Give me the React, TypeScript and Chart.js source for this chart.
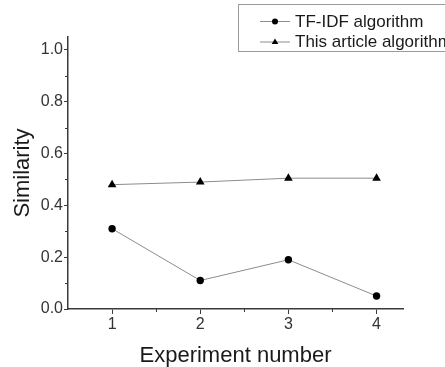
import React, { useEffect, useRef } from 'react';
import { Chart, registerables } from 'chart.js';

Chart.register(...registerables);

const EXPERIMENTS = [1, 2, 3, 4];
const TFIDF_VALUES = [0.31, 0.11, 0.19, 0.05];
const ARTICLE_VALUES = [0.48, 0.49, 0.505, 0.505];
const SERIES_NAMES = ['TF-IDF algorithm', 'This article algorithm'];
const X_TICKS = [1, 1.5, 2, 2.5, 3, 3.5, 4];
const Y_TICKS = [0, 0.1, 0.2, 0.3, 0.4, 0.5, 0.6, 0.7, 0.8, 0.9, 1.0];
const X_TITLE = 'Experiment number';
const Y_TITLE = 'Similarity';

const FONT = '"Liberation Sans", Arial, sans-serif';
const AXIS_COLOR = '#3a3a3a';
const LINE_COLOR = '#8c8c8c';

const isMajorX = (v: number) => Math.abs(v - Math.round(v)) < 1e-6;
const isMajorY = (v: number) => Math.abs(v * 5 - Math.round(v * 5)) < 1e-6;

const minorTicksPlugin = {
  id: 'minorTicks',
  afterDraw(chart: any) {
    const { ctx } = chart;
    const xs = chart.scales.x;
    const ys = chart.scales.y;
    ctx.save();
    ctx.strokeStyle = AXIS_COLOR;
    ctx.lineWidth = 1;
    X_TICKS.filter((v) => !isMajorX(v)).forEach((v) => {
      const px = Math.round(xs.getPixelForValue(v)) + 0.5;
      ctx.beginPath();
      ctx.moveTo(px, ys.bottom);
      ctx.lineTo(px, ys.bottom + 3);
      ctx.stroke();
    });
    Y_TICKS.filter((v) => !isMajorY(v)).forEach((v) => {
      const py = Math.round(ys.getPixelForValue(v)) + 0.5;
      ctx.beginPath();
      ctx.moveTo(xs.left, py);
      ctx.lineTo(xs.left - 3, py);
      ctx.stroke();
    });
    ctx.restore();
  },
};

function drawMarker(ctx: CanvasRenderingContext2D, style: string, x: number, y: number, r: number) {
  ctx.beginPath();
  if (style === 'triangle') {
    ctx.moveTo(x, y - r);
    ctx.lineTo(x + r * 0.95, y + r * 0.6);
    ctx.lineTo(x - r * 0.95, y + r * 0.6);
    ctx.closePath();
  } else {
    ctx.arc(x, y, r, 0, Math.PI * 2);
  }
  ctx.fill();
}

const boxLegendPlugin = {
  id: 'boxLegend',
  afterDraw(chart: any) {
    const { ctx } = chart;
    ctx.save();
    ctx.strokeStyle = '#9a9a9a';
    ctx.lineWidth = 1;
    ctx.strokeRect(238.5, 4.5, 230, 47);
    const rows = [21.5, 42];
    chart.data.datasets.forEach((ds: any, i: number) => {
      const y = rows[i];
      ctx.strokeStyle = LINE_COLOR;
      ctx.lineWidth = 1;
      ctx.beginPath();
      ctx.moveTo(260, y);
      ctx.lineTo(290, y);
      ctx.stroke();
      ctx.fillStyle = '#000';
      drawMarker(ctx, ds.pointStyle, 275, y, ds.pointStyle === 'triangle' ? 3.5 : 3);
      ctx.fillStyle = '#1a1a1a';
      ctx.font = `17px ${FONT}`;
      ctx.textBaseline = 'middle';
      ctx.textAlign = 'left';
      ctx.fillText(ds.label, 295, y + 0.5);
    });
    ctx.restore();
  },
};

export default function App() {
  const canvasRef = useRef<HTMLCanvasElement | null>(null);

  useEffect(() => {
    if (!canvasRef.current) return;
    const chart = new Chart(canvasRef.current, {
      type: 'line',
      data: {
        datasets: [
          {
            label: SERIES_NAMES[0],
            data: EXPERIMENTS.map((x, i) => ({ x, y: TFIDF_VALUES[i] })),
            borderColor: LINE_COLOR,
            borderWidth: 1,
            pointStyle: 'circle',
            pointRadius: 3.7,
            pointBackgroundColor: '#000',
            pointBorderColor: '#000',
            pointBorderWidth: 0,
          },
          {
            label: SERIES_NAMES[1],
            data: EXPERIMENTS.map((x, i) => ({ x, y: ARTICLE_VALUES[i] })),
            borderColor: LINE_COLOR,
            borderWidth: 1,
            pointStyle: 'triangle',
            pointRadius: 5,
            pointBackgroundColor: '#000',
            pointBorderColor: '#000',
            pointBorderWidth: 0,
          },
        ],
      },
      options: {
        animation: false,
        responsive: false,
        devicePixelRatio: 1,
        layout: { padding: { top: 37, right: 42, left: 0, bottom: 0 } },
        plugins: {
          legend: { display: false },
          tooltip: { enabled: false },
        },
        scales: {
          x: {
            type: 'linear',
            min: 0.5,
            max: 4.3,
            afterBuildTicks: (scale: any) => {
              scale.ticks = X_TICKS.map((value) => ({ value }));
            },
            afterFit: (scale: any) => {
              scale.height = 58;
            },
            grid: {
              drawOnChartArea: false,
              drawTicks: true,
              tickLength: 5,
              tickColor: (c: any) => (isMajorX(c.tick.value) ? AXIS_COLOR : 'rgba(0,0,0,0)'),
            },
            border: { display: true, color: AXIS_COLOR, width: 1.5 },
            ticks: {
              autoSkip: false,
              maxRotation: 0,
              padding: 1,
              color: '#333',
              font: { family: FONT, size: 16 },
              callback: (v: any) => (isMajorX(Number(v)) ? String(Math.round(Number(v))) : ''),
            },
            title: {
              display: true,
              text: X_TITLE,
              color: '#1a1a1a',
              font: { family: FONT, size: 22, lineHeight: 1 },
              padding: { top: 2, bottom: 0 },
            },
          },
          y: {
            type: 'linear',
            min: 0,
            max: 1.05,
            afterBuildTicks: (scale: any) => {
              scale.ticks = Y_TICKS.map((value) => ({ value }));
            },
            afterFit: (scale: any) => {
              scale.width = 68;
            },
            grid: {
              drawOnChartArea: false,
              drawTicks: true,
              tickLength: 4,
              tickColor: (c: any) => (isMajorY(c.tick.value) ? AXIS_COLOR : 'rgba(0,0,0,0)'),
            },
            border: { display: true, color: AXIS_COLOR, width: 1.5 },
            ticks: {
              autoSkip: false,
              padding: 1,
              color: '#333',
              font: { family: FONT, size: 16 },
              callback: (v: any) => (isMajorY(Number(v)) ? Number(v).toFixed(1) : ''),
            },
            title: {
              display: true,
              text: Y_TITLE,
              color: '#1a1a1a',
              font: { family: FONT, size: 22, lineHeight: 1 },
              padding: { top: 12, bottom: 0 },
            },
          },
        },
      },
      plugins: [minorTicksPlugin, boxLegendPlugin],
    } as any);
    return () => chart.destroy();
  }, []);

  return (
    <div style={{ position: 'fixed', left: 0, top: 0, width: 445, height: 367, background: '#fff' }}>
      <canvas ref={canvasRef} width={445} height={367} style={{ width: 445, height: 367 }} />
    </div>
  );
}
